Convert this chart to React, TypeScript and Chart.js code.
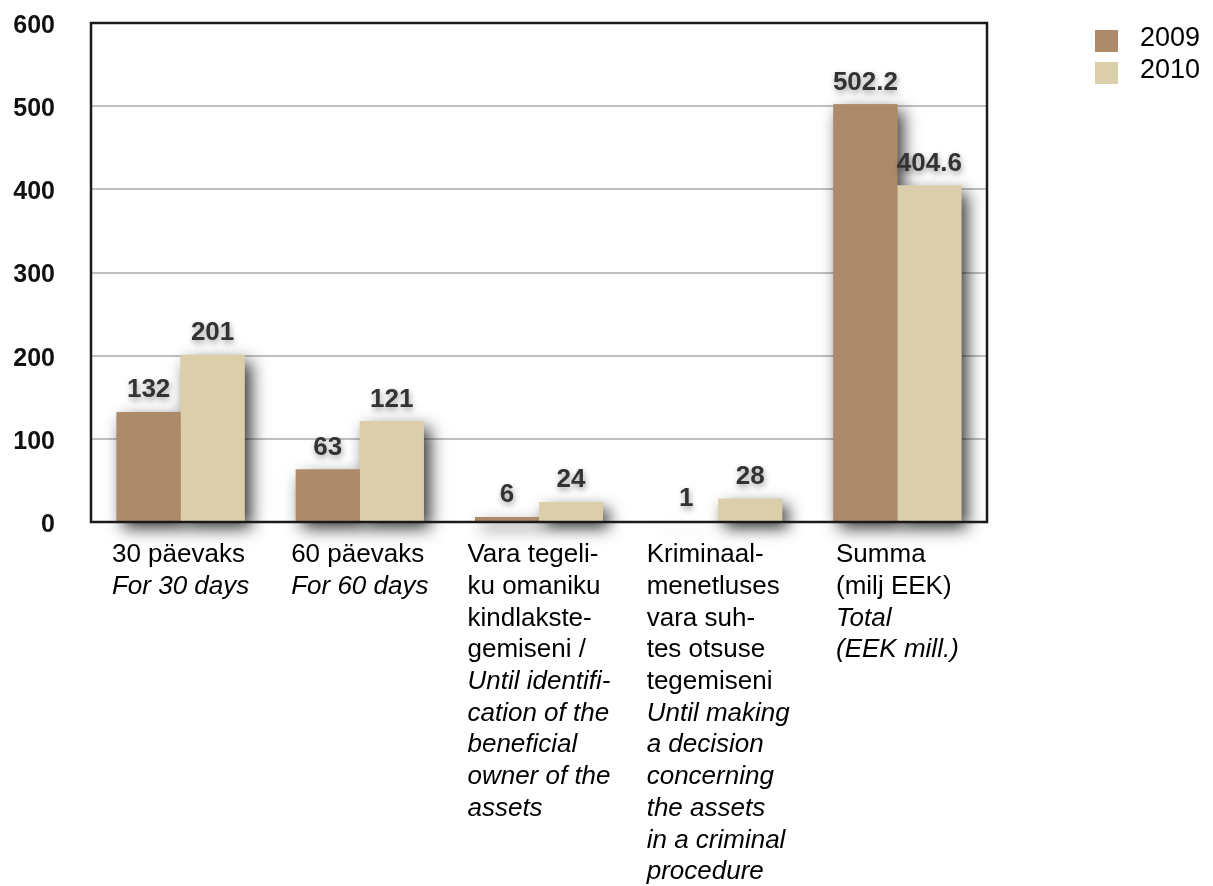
import React, { useEffect, useRef } from "react";
import { Chart, registerables } from "chart.js";

Chart.register(...registerables);

// ---- Data ----
const seriesNames = ["2009", "2010"];
const values2009 = [132, 63, 6, 1, 502.2];
const values2010 = [201, 121, 24, 28, 404.6];
const seriesColors = ["#ad8a69", "#dbcfab"];

const categoryRegularLines: string[][] = [
  ["30 päevaks"],
  ["60 päevaks"],
  ["Vara tegeli-", "ku omaniku", "kindlakste-", "gemiseni /"],
  ["Kriminaal-", "menetluses", "vara suh-", "tes otsuse", "tegemiseni"],
  ["Summa", "(milj EEK)"],
];
const categoryItalicLines: string[][] = [
  ["For 30 days"],
  ["For 60 days"],
  ["Until identifi-", "cation of the", "beneficial", "owner of the", "assets"],
  ["Until making", "a decision", "concerning", "the assets", "in a criminal", "procedure"],
  ["Total", "(EEK mill.)"],
];
const categories = categoryRegularLines.map((l) => l.join(" "));

const yMin = 0;
const yMax = 600;
const yStep = 100;

const FONT = "'Liberation Sans', Arial, Helvetica, sans-serif";

const W = 1197;
const H = 878;

const barShadowPlugin = {
  id: "barShadow",
  beforeDatasetsDraw(chart: any) {
    const ctx = chart.ctx;
    chart.data.datasets.forEach((ds: any, di: number) => {
      const meta = chart.getDatasetMeta(di);
      meta.data.forEach((el: any) => {
        const { x, y, base, width } = el.getProps(["x", "y", "base", "width"], true);
        ctx.save();
        ctx.shadowColor = "rgba(0,0,0,0.8)";
        ctx.shadowBlur = 16;
        ctx.shadowOffsetX = 6;
        ctx.shadowOffsetY = 7;
        ctx.fillStyle = ds.backgroundColor;
        ctx.fillRect(x - width / 2, Math.min(y, base), width, Math.abs(base - y));
        ctx.restore();
      });
    });
  },
};

const overlayPlugin = {
  id: "overlay",
  afterDatasetsDraw(chart: any) {
    const ctx = chart.ctx;
    const area = chart.chartArea;
    // box border
    ctx.save();
    ctx.strokeStyle = "#1a1a1a";
    ctx.lineWidth = 2.5;
    ctx.strokeRect(area.left, area.top, area.right - area.left, area.bottom - area.top);
    ctx.restore();

    // data labels
    chart.data.datasets.forEach((ds: any, di: number) => {
      const meta = chart.getDatasetMeta(di);
      meta.data.forEach((el: any, i: number) => {
        const { x, y } = el.getProps(["x", "y"], true);
        ctx.save();
        ctx.font = `bold 26px ${FONT}`;
        ctx.fillStyle = "#333333";
        ctx.textAlign = "center";
        ctx.textBaseline = "middle";
        ctx.shadowColor = "rgba(0,0,0,0.4)";
        ctx.shadowBlur = 6;
        ctx.shadowOffsetX = 1;
        ctx.shadowOffsetY = 3;
        ctx.fillText(String(ds.data[i]), x, y - 22);
        ctx.restore();
      });
    });
  },
  afterDraw(chart: any) {
    const ctx = chart.ctx;
    const area = chart.chartArea;
    const xScale = chart.scales.x;
    const regFont = `26px ${FONT}`;
    const itFont = `italic 26px ${FONT}`;
    const lineH = 31.7;
    categories.forEach((_, i) => {
      const cx = xScale.getPixelForValue(i);
      const lines = [
        ...categoryRegularLines[i].map((t) => ({ t, f: regFont })),
        ...categoryItalicLines[i].map((t) => ({ t, f: itFont })),
      ];
      let maxW = 0;
      lines.forEach((l) => {
        ctx.font = l.f;
        maxW = Math.max(maxW, ctx.measureText(l.t).width);
      });
      const left = cx - maxW / 2;
      ctx.save();
      ctx.fillStyle = "#000";
      ctx.textAlign = "left";
      ctx.textBaseline = "middle";
      lines.forEach((l, k) => {
        ctx.font = l.f;
        ctx.fillText(l.t, left, area.bottom + 33 + k * lineH);
      });
      ctx.restore();
    });

    // legend
    ctx.save();
    seriesNames.forEach((name, i) => {
      const sx = area.right + 108;
      const sy = 22 + i * 32;
      ctx.fillStyle = seriesColors[i];
      ctx.fillRect(sx, sy, 23, 22);
      ctx.fillStyle = "#000";
      ctx.font = `27px ${FONT}`;
      ctx.textAlign = "left";
      ctx.textBaseline = "middle";
      ctx.fillText(name, sx + 45, sy + 9);
    });
    ctx.restore();
  },
};

export default function App() {
  const ref = useRef<HTMLCanvasElement | null>(null);
  useEffect(() => {
    document.documentElement.style.overflow = "hidden";
    document.body.style.overflow = "hidden";
    if (!ref.current) return;
    const chart = new Chart(ref.current, {
      type: "bar",
      data: {
        labels: categories,
        datasets: [
          { label: seriesNames[0], data: values2009, backgroundColor: seriesColors[0], borderWidth: 0 },
          { label: seriesNames[1], data: values2010, backgroundColor: seriesColors[1], borderWidth: 0 },
        ],
      },
      options: {
        responsive: false,
        animation: false,
        devicePixelRatio: 1,
        layout: { padding: { top: 15, right: 218, left: 0, bottom: 0 } },
        datasets: { bar: { categoryPercentage: 0.714, barPercentage: 1 } },
        plugins: { legend: { display: false }, tooltip: { enabled: false } },
        scales: {
          x: {
            grid: { display: false },
            border: { display: false },
            ticks: { display: false },
            afterFit: (s: any) => {
              s.height = H - 514;
            },
          },
          y: {
            min: yMin,
            max: yMax,
            ticks: {
              stepSize: yStep,
              padding: 0,
              labelOffset: 3,
              color: "#111",
              font: { family: FONT, size: 25, weight: "bold" },
            },
            grid: {
              color: "#c0c0c0",
              lineWidth: 2,
              drawTicks: true,
              tickLength: 36,
              tickColor: "rgba(0,0,0,0)",
            },
            border: { display: false },
            afterFit: (s: any) => {
              s.width = 83;
            },
          },
        },
      },
      plugins: [barShadowPlugin, overlayPlugin],
    } as any);
    return () => chart.destroy();
  }, []);
  return (
    <div style={{ width: W, height: H }}>
      <canvas ref={ref} width={W} height={H} style={{ display: "block", width: W, height: H }} />
    </div>
  );
}
